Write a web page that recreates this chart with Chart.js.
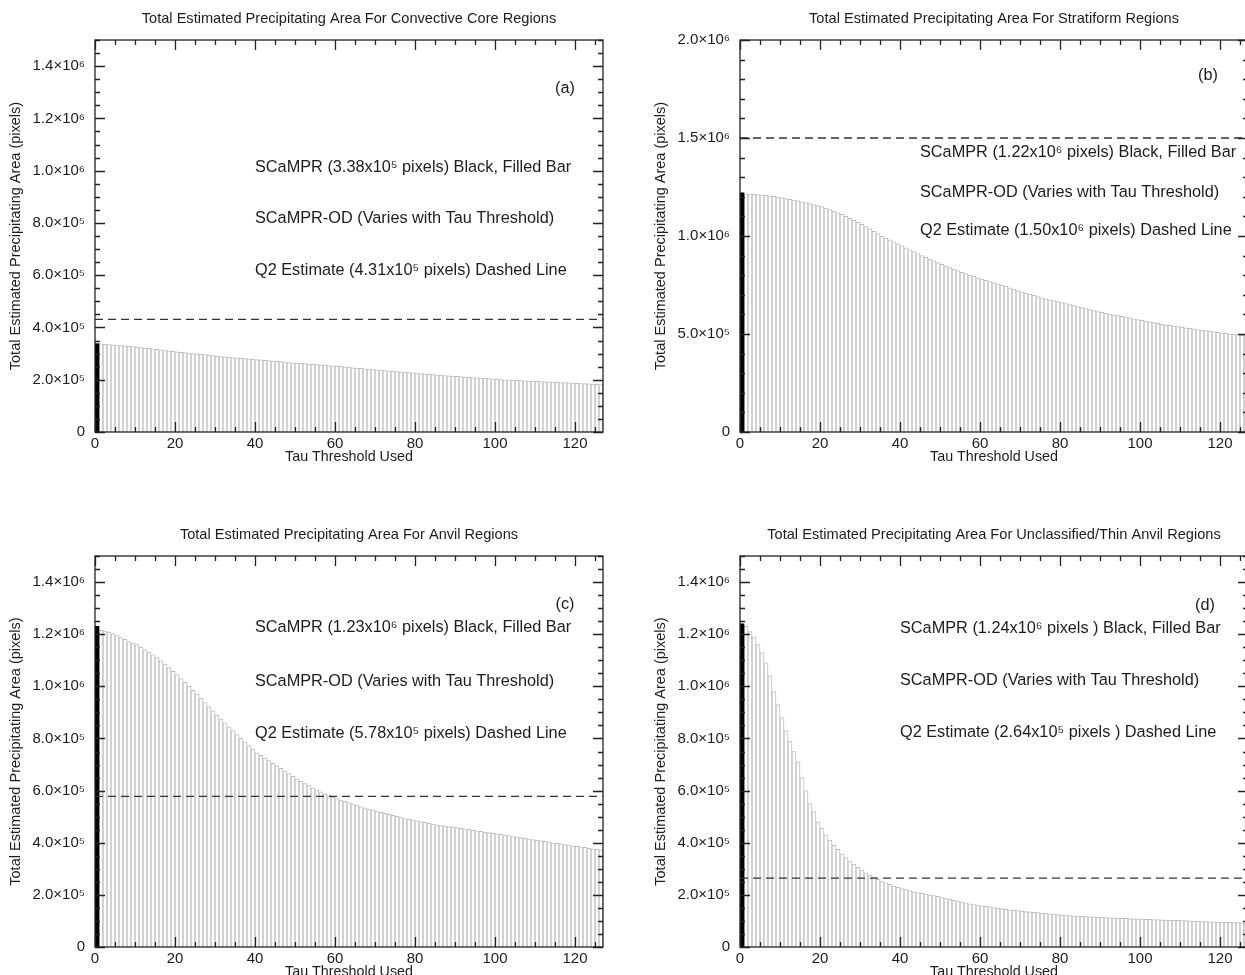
<!DOCTYPE html>
<html>
<head>
<meta charset="utf-8">
<script src="https://cdn.jsdelivr.net/npm/chart.js@4.4.0/dist/chart.umd.min.js"></script>
<style>
html, body { margin: 0; padding: 0; background: #fff; overflow: hidden; width: 1245px; height: 975px; }
.p { position: absolute; }
</style>
</head>
<body>
<div class="p" style="left:0px;top:0px"><canvas id="ca" width="622" height="466"></canvas></div>
<div class="p" style="left:645px;top:0px"><canvas id="cb" width="620" height="466"></canvas></div>
<div class="p" style="left:0px;top:516px"><canvas id="cc" width="622" height="465"></canvas></div>
<div class="p" style="left:645px;top:516px"><canvas id="cd" width="620" height="465"></canvas></div>
<script>
// ---------------- DATA ----------------
// Tau thresholds for the SCaMPR-OD bars (1..126); tau 0 is the SCaMPR bar
const taus = Array.from({ length: 126 }, (_, i) => i + 1);

// x-axis tick values / labels
const xTicks = [0, 20, 40, 60, 80, 100, 120];
const xTickLabels = ['0', '20', '40', '60', '80', '100', '120'];

// y-axis ticks / labels
const yTicks14 = [0, 200000, 400000, 600000, 800000, 1000000, 1200000, 1400000];
const yTickLabels14 = ['0', '2.0×10⁵', '4.0×10⁵', '6.0×10⁵', '8.0×10⁵', '1.0×10⁶', '1.2×10⁶', '1.4×10⁶'];
const yTicks20 = [0, 500000, 1000000, 1500000, 2000000];
const yTickLabels20 = ['0', '5.0×10⁵', '1.0×10⁶', '1.5×10⁶', '2.0×10⁶'];

// (a) Convective core
const scamprA = 338000;
const q2A = 431000;
const odA = [
  337000, 336000, 335000, 334000, 333000,
  331000, 330000, 328000, 327000, 325000,
  323000, 321000, 320000, 318000, 316000,
  314000, 312000, 311000, 309000, 307000,
  305000, 304000, 302000, 300000, 299000,
  297000, 296000, 294000, 292000, 291000,
  289000, 288000, 286000, 285000, 284000,
  282000, 281000, 280000, 278000, 277000,
  276000, 274000, 273000, 271000, 270000,
  269000, 268000, 266000, 265000, 264000,
  263000, 262000, 260000, 259000, 258000,
  257000, 256000, 254000, 253000, 252000,
  251000, 249000, 248000, 246000, 245000,
  244000, 242000, 241000, 239000, 238000,
  237000, 235000, 234000, 232000, 231000,
  230000, 229000, 227000, 226000, 225000,
  224000, 222000, 221000, 220000, 219000,
  218000, 216000, 215000, 214000, 213000,
  212000, 210000, 209000, 208000, 207000,
  206000, 205000, 204000, 203000, 202000,
  201000, 200000, 200000, 199000, 198000,
  197000, 196000, 195000, 195000, 194000,
  193000, 192000, 192000, 191000, 190000,
  189000, 189000, 188000, 187000, 186000,
  185000, 185000, 184000, 183000, 182000,
  181000
];

// (b) Stratiform
const scamprB = 1220000;
const q2B = 1500000;
const odB = [
  1215000, 1214000, 1213000, 1212000, 1210000,
  1208000, 1205000, 1202000, 1199000, 1195000,
  1191000, 1187000, 1183000, 1179000, 1175000,
  1170000, 1165000, 1160000, 1155000, 1150000,
  1143000, 1135000, 1127000, 1118000, 1110000,
  1100000, 1090000, 1080000, 1070000, 1060000,
  1048000, 1036000, 1024000, 1012000, 1000000,
  990000, 980000, 970000, 960000, 950000,
  940000, 930000, 920000, 910000, 900000,
  891000, 882000, 873000, 864000, 855000,
  847000, 839000, 831000, 823000, 815000,
  808000, 801000, 794000, 787000, 780000,
  774000, 768000, 762000, 756000, 750000,
  743000, 736000, 729000, 722000, 715000,
  709000, 703000, 697000, 691000, 685000,
  680000, 675000, 670000, 665000, 660000,
  655000, 650000, 645000, 640000, 635000,
  630000, 625000, 620000, 615000, 610000,
  606000, 602000, 598000, 594000, 590000,
  586000, 582000, 578000, 574000, 570000,
  566000, 562000, 558000, 554000, 550000,
  547000, 544000, 541000, 538000, 535000,
  532000, 529000, 526000, 523000, 520000,
  517000, 514000, 511000, 508000, 505000,
  503000, 501000, 499000, 497000, 495000,
  493000
];

// (c) Anvil
const scamprC = 1230000;
const q2C = 578000;
const odC = [
  1215000, 1212000, 1208000, 1202000, 1195000,
  1187000, 1180000, 1172000, 1166000, 1160000,
  1150000, 1140000, 1131000, 1121000, 1110000,
  1098000, 1085000, 1072000, 1058000, 1045000,
  1030000, 1015000, 1000000, 985000, 970000,
  954000, 938000, 922000, 906000, 890000,
  875000, 860000, 845000, 830000, 815000,
  801000, 787000, 773000, 759000, 745000,
  735000, 725000, 715000, 705000, 695000,
  685000, 675000, 665000, 655000, 645000,
  636000, 627000, 619000, 610000, 602000,
  595000, 588000, 581000, 575000, 569000,
  564000, 559000, 554000, 549000, 544000,
  539000, 534000, 529000, 525000, 521000,
  517000, 513000, 509000, 505000, 501000,
  497000, 493000, 490000, 487000, 484000,
  481000, 478000, 475000, 472000, 469000,
  466000, 464000, 462000, 460000, 458000,
  455000, 453000, 451000, 448000, 446000,
  444000, 441000, 439000, 436000, 434000,
  432000, 429000, 427000, 424000, 422000,
  420000, 417000, 415000, 412000, 410000,
  408000, 405000, 403000, 400000, 398000,
  396000, 393000, 391000, 388000, 386000,
  384000, 382000, 379000, 377000, 375000,
  373000
];

// (d) Unclassified / thin anvil
const scamprD = 1240000;
const q2D = 264000;
const odD = [
  1230000, 1210000, 1190000, 1160000, 1130000,
  1090000, 1040000, 980000, 930000, 880000,
  830000, 790000, 750000, 710000, 650000,
  600000, 550000, 520000, 480000, 455000,
  430000, 410000, 390000, 375000, 357000,
  343000, 330000, 318000, 306000, 295000,
  285000, 276000, 267000, 260000, 253000,
  246000, 240000, 234000, 229000, 224000,
  220000, 216000, 212000, 209000, 206000,
  203000, 200000, 197000, 194000, 190000,
  186000, 183000, 179000, 176000, 172000,
  169000, 166000, 163000, 161000, 158000,
  156000, 154000, 151000, 149000, 147000,
  145000, 143000, 141000, 140000, 138000,
  136000, 135000, 133000, 132000, 130000,
  129000, 127000, 126000, 124000, 123000,
  122000, 121000, 120000, 119000, 118000,
  117000, 116000, 116000, 115000, 114000,
  113000, 112000, 112000, 111000, 110000,
  110000, 109000, 108000, 108000, 107000,
  106000, 106000, 105000, 105000, 104000,
  103000, 103000, 102000, 102000, 101000,
  101000, 100000, 99000, 99000, 98000,
  98000, 97000, 97000, 96000, 96000,
  95000, 95000, 94000, 94000, 93000,
  93000
];

// Titles and annotation texts
const titles = [
  'Total Estimated Precipitating Area For Convective Core Regions',
  'Total Estimated Precipitating Area For Stratiform Regions',
  'Total Estimated Precipitating Area For Anvil Regions',
  'Total Estimated Precipitating Area For Unclassified/Thin Anvil Regions'
];
const notesA = ['SCaMPR (3.38x10⁵ pixels) Black, Filled Bar', 'SCaMPR-OD (Varies with Tau Threshold)', 'Q2 Estimate (4.31x10⁵ pixels) Dashed Line'];
const notesB = ['SCaMPR (1.22x10⁶ pixels) Black, Filled Bar', 'SCaMPR-OD (Varies with Tau Threshold)', 'Q2 Estimate (1.50x10⁶ pixels) Dashed Line'];
const notesC = ['SCaMPR (1.23x10⁶ pixels) Black, Filled Bar', 'SCaMPR-OD (Varies with Tau Threshold)', 'Q2 Estimate (5.78x10⁵ pixels) Dashed Line'];
const notesD = ['SCaMPR (1.24x10⁶ pixels ) Black, Filled Bar', 'SCaMPR-OD (Varies with Tau Threshold)', 'Q2 Estimate (2.64x10⁵ pixels ) Dashed Line'];

// ---------------- RENDERING ----------------
const FONT = '"Liberation Sans", Arial, Helvetica, sans-serif';
const INK = '#1c1c1c';
Chart.defaults.font.family = FONT;
Chart.defaults.color = INK;

const framePlugin = {
  id: 'frame',
  afterDatasetsDraw(chart) {
    const o = chart.options.plugins.frame;
    const { ctx, chartArea: a, scales: { x, y } } = chart;
    ctx.save();
    ctx.strokeStyle = '#222';
    ctx.lineWidth = 1.3;
    ctx.beginPath();
    // x ticks every 5 (major every 20), top and bottom, pointing inward
    for (let k = 0; k * 5 <= 127; k++) {
      const px = Math.round(x.getPixelForValue(k * 5)) + 0.5;
      const len = (k % 4 === 0) ? 10 : 5;
      ctx.moveTo(px, a.bottom); ctx.lineTo(px, a.bottom - len);
      ctx.moveTo(px, a.top); ctx.lineTo(px, a.top + len);
    }
    // y ticks, left and right, pointing inward
    const ratio = Math.round(o.yMajor / o.yMinor);
    for (let k = 0; k * o.yMinor <= o.yMax; k++) {
      const py = Math.round(y.getPixelForValue(k * o.yMinor)) + 0.5;
      const len = (k % ratio === 0) ? 10 : 5;
      ctx.moveTo(a.left, py); ctx.lineTo(a.left + len, py);
      ctx.moveTo(a.right, py); ctx.lineTo(a.right - len, py);
    }
    ctx.stroke();
    ctx.strokeRect(a.left, a.top, a.right - a.left, a.bottom - a.top);
    // annotation text
    ctx.fillStyle = INK;
    ctx.font = '16.3px ' + FONT;
    ctx.textBaseline = 'middle';
    ctx.textAlign = 'left';
    o.notes.forEach((t, i) => ctx.fillText(t, a.left + o.noteX, a.top + o.noteY[i]));
    ctx.textAlign = 'center';
    ctx.fillText(o.tag, a.left + o.tagX, a.top + o.tagY);
    ctx.restore();
  }
};

function makeChart(id, title, scampr, od, q2, yMax, yTicks, yLabels, yMajor, yMinor, padRight, notes, noteX, noteY, tag, tagX, tagY) {
  const barData = taus.map((t, i) => ({ x: t + 0.5, y: od[i] }));
  return new Chart(document.getElementById(id), {
    type: 'bar',
    data: {
      datasets: [
        {
          type: 'line', label: 'Q2 Estimate', order: 0,
          data: [{ x: 0, y: q2 }, { x: 127, y: q2 }],
          borderColor: '#333333', borderWidth: 1.3, borderDash: [8, 5],
          pointRadius: 0, fill: false
        },
        {
          label: 'SCaMPR', order: 1, grouped: false,
          data: [{ x: 0.5, y: scampr }],
          backgroundColor: '#000', borderWidth: 0,
          barPercentage: 1, categoryPercentage: 1
        },
        {
          label: 'SCaMPR-OD', order: 2, grouped: false,
          data: barData,
          backgroundColor: '#ffffff', borderColor: '#bdbdbd',
          borderWidth: { left: 1, right: 1, top: 1, bottom: 0 },
          borderSkipped: false,
          barPercentage: 1, categoryPercentage: 1
        }
      ]
    },
    options: {
      responsive: false,
      animation: false,
      devicePixelRatio: 1,
      layout: { padding: { left: 0, right: padRight, top: 0, bottom: 0 } },
      plugins: {
        legend: { display: false },
        tooltip: { enabled: false },
        title: {
          display: true, text: title, fullSize: false,
          font: { size: 14.6, weight: 'normal' }, color: INK,
          padding: { top: 10, bottom: 12.5 }
        },
        frame: { yMax, yMajor, yMinor, notes, noteX, noteY, tag, tagX, tagY }
      },
      scales: {
        x: {
          type: 'linear', min: 0, max: 127, offset: false,
          grid: { display: false, drawTicks: false, offset: false },
          border: { display: false },
          afterBuildTicks: (s) => { s.ticks = xTicks.map(v => ({ value: v })); },
          afterFit: (s) => { s.height = 34; },
          ticks: { padding: 3, maxRotation: 0, autoSkip: false, font: { size: 15 }, color: INK,
                   callback: (v, i) => xTickLabels[i] },
          title: { display: true, text: 'Tau Threshold Used', font: { size: 14.3 }, color: INK,
                   padding: { top: 0, bottom: 0 } }
        },
        y: {
          type: 'linear', min: 0, max: yMax,
          grid: { display: false, drawTicks: false },
          border: { display: false },
          afterBuildTicks: (s) => { s.ticks = yTicks.map(v => ({ value: v })); },
          afterFit: (s) => { s.width = 95; },
          ticks: { padding: 10, autoSkip: false, font: { size: 15 }, color: INK,
                   callback: (v, i) => yLabels[i] },
          title: { display: true, text: 'Total Estimated Precipitating Area (pixels)',
                   font: { size: 14.5 }, color: INK, padding: { top: 7, bottom: 0 } }
        }
      }
    },
    plugins: [framePlugin]
  });
}

makeChart('ca', titles[0], scamprA, odA, q2A, 1500000, yTicks14, yTickLabels14, 200000, 50000, 19,
  notesA, 160, [127, 178, 230], '(a)', 470, 48);
makeChart('cb', titles[1], scamprB, odB, q2B, 2000000, yTicks20, yTickLabels20, 500000, 100000, 17,
  notesB, 180, [112, 152, 190], '(b)', 468, 35);
makeChart('cc', titles[2], scamprC, odC, q2C, 1500000, yTicks14, yTickLabels14, 200000, 50000, 19,
  notesC, 160, [71, 125, 177], '(c)', 470, 48);
makeChart('cd', titles[3], scamprD, odD, q2D, 1500000, yTicks14, yTickLabels14, 200000, 50000, 17,
  notesD, 160, [72, 124, 176], '(d)', 465, 49);
</script>
</body>
</html>
